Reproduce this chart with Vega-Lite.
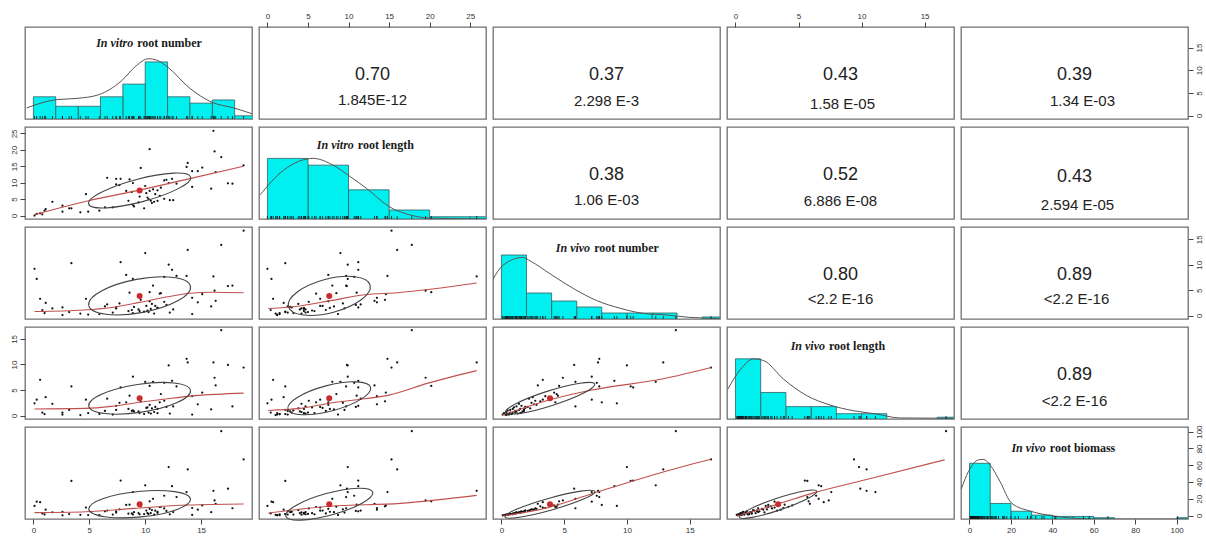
{
"$schema": "https://vega.github.io/schema/vega-lite/v6.json",
"background": "white",
"padding": {"left": 9, "top": 11, "right": 2, "bottom": 2},
"columns": 5,
"spacing": {"row": 8, "column": 7},
"bounds": "flush",
"align": "all",
"config": {
  "view": {"stroke": "#707070", "strokeWidth": 1.3},
  "axis": {"domain": false, "grid": false, "tickColor": "#444444", "tickSize": 5, "tickWidth": 1, "labelFont": "Liberation Sans", "labelFontSize": 8, "labelColor": "#333333", "labelPadding": 2, "title": null, "labelFlush": false, "labelOverlap": false},
  "axisLeft": {"labelAngle": 270, "labelAlign": "center", "labelBaseline": "bottom"},
  "axisRight": {"labelAngle": 270, "labelAlign": "center", "labelBaseline": "top"}
},
"datasets": {
  "obs": [
    {"a":16.8,"b":17.8,"c":13.9,"d":16.7,"e":100.5},
    {"a":18.8,"b":15.3,"c":16.7,"d":9.4,"e":66.8},
    {"a":16.1,"b":25.8,"c":7.7,"d":10.4,"e":29.5},
    {"a":16.2,"b":19.5,"c":4.9,"d":7.4,"e":18},
    {"a":10.4,"b":20.2,"c":4.6,"d":5.8,"e":17},
    {"a":13.7,"b":14.8,"c":7.8,"d":11.1,"e":28},
    {"a":13.8,"b":16.0,"c":12.9,"d":10.4,"e":55},
    {"a":14.2,"b":13.5,"c":3.5,"d":3.8,"e":9},
    {"a":14.7,"b":13.5,"c":2.6,"d":2.2,"e":7},
    {"a":15.1,"b":14.6,"c":4.2,"d":4.5,"e":12},
    {"a":16.3,"b":13.2,"c":2.9,"d":5.9,"e":14},
    {"a":15.9,"b":8.2,"c":1.8,"d":1.2,"e":4},
    {"a":9.5,"b":5.8,"c":0.9,"d":0.5,"e":1.5},
    {"a":17.4,"b":9.8,"c":5.8,"d":9.9,"e":32},
    {"a":17.8,"b":9.7,"c":5.9,"d":1.8,"e":8.7},
    {"a":9.4,"b":4.0,"c":1.2,"d":0.8,"e":3},
    {"a":14.2,"b":8.7,"c":0.3,"d":0.2,"e":0.8},
    {"a":9.6,"b":14.5,"c":3.1,"d":2.8,"e":11},
    {"a":6.6,"b":11.5,"c":2.2,"d":3.3,"e":6},
    {"a":7.4,"b":11.2,"c":1.6,"d":1.9,"e":5},
    {"a":7.8,"b":11.2,"c":10.5,"d":5.5,"e":41.7},
    {"a":7.4,"b":9.5,"c":1.4,"d":1.1,"e":3.5},
    {"a":7.7,"b":9.3,"c":2.4,"d":2.5,"e":7.5},
    {"a":8.6,"b":11.0,"c":4.5,"d":3.9,"e":13},
    {"a":8.9,"b":9.9,"c":7.2,"d":7.6,"e":28},
    {"a":8.3,"b":7.5,"c":8.0,"d":2.6,"e":12.6},
    {"a":8.8,"b":7.2,"c":1.1,"d":0.9,"e":2.5},
    {"a":10.1,"b":6.8,"c":1.9,"d":1.5,"e":6},
    {"a":10.4,"b":7.5,"c":2.8,"d":2.1,"e":8},
    {"a":10.7,"b":8.0,"c":5.9,"d":6.6,"e":20},
    {"a":11.1,"b":7.7,"c":1.5,"d":1.3,"e":4.5},
    {"a":11.4,"b":8.5,"c":4.4,"d":4.2,"e":10.5},
    {"a":11.7,"b":10.7,"c":7.6,"d":6.4,"e":23.6},
    {"a":11.9,"b":10.9,"c":2.1,"d":1.7,"e":5.5},
    {"a":12.1,"b":9.9,"c":10.0,"d":9.8,"e":57.8},
    {"a":12.4,"b":11.2,"c":9.0,"d":6.8,"e":35},
    {"a":12.8,"b":9.7,"c":7.8,"d":5.7,"e":22},
    {"a":10.3,"b":5.0,"c":0.7,"d":0.6,"e":2},
    {"a":10.5,"b":4.5,"c":1.3,"d":0.4,"e":3},
    {"a":8.9,"b":3.2,"c":0.5,"d":1.0,"e":1.2},
    {"a":9.0,"b":2.8,"c":1.7,"d":0.8,"e":4},
    {"a":9.9,"b":2.2,"c":0.8,"d":0.3,"e":1.8},
    {"a":10.6,"b":3.8,"c":2.3,"d":1.4,"e":6.5},
    {"a":10.2,"b":5.5,"c":1.0,"d":1.6,"e":2.8},
    {"a":10.8,"b":4.2,"c":0.4,"d":0.7,"e":1},
    {"a":11.1,"b":4.5,"c":1.5,"d":0.5,"e":3.2},
    {"a":11.7,"b":5.1,"c":2.7,"d":2.9,"e":8.5},
    {"a":12.2,"b":4.7,"c":0.6,"d":0.4,"e":1.5},
    {"a":12.5,"b":4.7,"c":1.2,"d":1.8,"e":4.2},
    {"a":4.7,"b":6.5,"c":3.3,"d":3.1,"e":9.5},
    {"a":8.5,"b":4.5,"c":0.9,"d":1.3,"e":2.2},
    {"a":5.9,"b":1.5,"c":0.3,"d":0.3,"e":0.5},
    {"a":6.4,"b":2.5,"c":1.8,"d":0.9,"e":5},
    {"a":7.1,"b":2.5,"c":0.6,"d":0.2,"e":1.2},
    {"a":4.9,"b":1.2,"c":0.2,"d":0.5,"e":0.6},
    {"a":1.7,"b":4.2,"c":1.4,"d":2.3,"e":3.8},
    {"a":4.2,"b":1.0,"c":0.4,"d":0.1,"e":0.9},
    {"a":3.2,"b":2.2,"c":0.7,"d":1.1,"e":1.8},
    {"a":3.4,"b":2.2,"c":10.3,"d":5.7,"e":41.3},
    {"a":2.6,"b":3.0,"c":1.6,"d":0.6,"e":4.4},
    {"a":2.6,"b":1.2,"c":0.1,"d":0.2,"e":0.3},
    {"a":1.1,"b":2.0,"c":2.5,"d":3.6,"e":7},
    {"a":1.0,"b":1.5,"c":0.5,"d":0.3,"e":1.4},
    {"a":0.1,"b":0.0,"c":9.2,"d":2.4,"e":11.4},
    {"a":0.3,"b":0.5,"c":7.2,"d":3.1,"e":16.5},
    {"a":0.6,"b":0.7,"c":3.3,"d":7.0,"e":16},
    {"a":0.8,"b":0.4,"c":1.1,"d":0.6,"e":2.6},
    {"a":11.3,"b":6.0,"c":4.3,"d":2.6,"e":10.2},
    {"a":10.0,"b":9.0,"c":12.3,"d":6.6,"e":36},
    {"a":10.9,"b":6.5,"c":1.9,"d":1.7,"e":5.8}
  ],
  "dens": [
    {"v":"a","x":-0.6,"h":3.5},{"v":"a","x":2.05,"h":6.1},{"v":"a","x":3.9,"h":6.5},{"v":"a","x":5.8,"h":7.6},{"v":"a","x":7.9,"h":12.1},{"v":"a","x":9.2,"h":16.8},{"v":"a","x":10.3,"h":19},{"v":"a","x":11,"h":18.6},{"v":"a","x":12,"h":16.4},{"v":"a","x":13.95,"h":9.8},{"v":"a","x":15.95,"h":5.3},{"v":"a","x":17.9,"h":3.5},{"v":"a","x":19.6,"h":1.6},
    {"v":"b","x":-0.9,"h":10.8},{"v":"b","x":2,"h":21.8},{"v":"b","x":5.67,"h":27},{"v":"b","x":8.1,"h":24},{"v":"b","x":10.2,"h":18.9},{"v":"b","x":12.2,"h":13.7},{"v":"b","x":15.1,"h":5.3},{"v":"b","x":17.5,"h":1.9},{"v":"b","x":20,"h":0.4},{"v":"b","x":26.9,"h":0},
    {"v":"c","x":-0.67,"h":20},{"v":"c","x":0.1,"h":26.7},{"v":"c","x":1.7,"h":30.8},{"v":"c","x":2.3,"h":29},{"v":"c","x":3.9,"h":22.5},{"v":"c","x":5.8,"h":15},{"v":"c","x":7.6,"h":9.2},{"v":"c","x":9.5,"h":5.3},{"v":"c","x":11.3,"h":2.8},{"v":"c","x":13.2,"h":2},{"v":"c","x":15,"h":0.8},{"v":"c","x":17.4,"h":0.3},
    {"v":"d","x":-0.6,"h":17},{"v":"d","x":0.4,"h":28},{"v":"d","x":1.45,"h":34},{"v":"d","x":2.24,"h":33},{"v":"d","x":3.8,"h":22.6},{"v":"d","x":5.66,"h":13.2},{"v":"d","x":7.5,"h":7.9},{"v":"d","x":9.34,"h":4.7},{"v":"d","x":11.2,"h":2.8},{"v":"d","x":13,"h":0.6},{"v":"d","x":17.3,"h":0.4},
    {"v":"e","x":-4.1,"h":22.6},{"v":"e","x":-0.5,"h":36.7},{"v":"e","x":4.3,"h":45.6},{"v":"e","x":6.7,"h":46},{"v":"e","x":9.9,"h":41.8},{"v":"e","x":14.7,"h":29},{"v":"e","x":20.3,"h":12.3},{"v":"e","x":29.8,"h":5.9},{"v":"e","x":39.4,"h":2.6},{"v":"e","x":48.9,"h":0.8},{"v":"e","x":61.7,"h":0},{"v":"e","x":105,"h":0}
  ],
  "smooth": [
    {"p":"ab","x":0.1,"y":0.3},{"p":"ab","x":5,"y":4.6},{"p":"ab","x":9.3,"y":7.6},{"p":"ab","x":13.8,"y":11.1},{"p":"ab","x":18.8,"y":15},
    {"p":"ac","x":0.1,"y":0.8},{"p":"ac","x":4.5,"y":1.1},{"p":"ac","x":7,"y":1.6},{"p":"ac","x":9.5,"y":2.6},{"p":"ac","x":12,"y":3.7},{"p":"ac","x":14,"y":4.4},{"p":"ac","x":16,"y":4.6},{"p":"ac","x":18.8,"y":4.5},
    {"p":"bc","x":0.1,"y":1.4},{"p":"bc","x":4,"y":1.9},{"p":"bc","x":8,"y":3.0},{"p":"bc","x":12,"y":4.1},{"p":"bc","x":16,"y":4.5},{"p":"bc","x":25.8,"y":6.4},
    {"p":"ad","x":0.1,"y":1.3},{"p":"ad","x":4.6,"y":1.4},{"p":"ad","x":7,"y":1.8},{"p":"ad","x":9.5,"y":2.6},{"p":"ad","x":12,"y":3.3},{"p":"ad","x":14.5,"y":3.9},{"p":"ad","x":18.8,"y":4.4},
    {"p":"bd","x":0.1,"y":1.0},{"p":"bd","x":4,"y":1.4},{"p":"bd","x":8,"y":2.5},{"p":"bd","x":12,"y":3.3},{"p":"bd","x":15,"y":4.0},{"p":"bd","x":19.7,"y":6.3},{"p":"bd","x":25.8,"y":8.8},
    {"p":"cd","x":0.1,"y":0.1},{"p":"cd","x":3.6,"y":2.9},{"p":"cd","x":7.2,"y":5.0},{"p":"cd","x":12.9,"y":7.2},{"p":"cd","x":16.7,"y":9.4},
    {"p":"ae","x":0.1,"y":3.5},{"p":"ae","x":4.7,"y":4.5},{"p":"ae","x":9,"y":8.5},{"p":"ae","x":13.8,"y":12.5},{"p":"ae","x":18.8,"y":13.8},
    {"p":"be","x":0.1,"y":3},{"p":"be","x":7.7,"y":11},{"p":"be","x":16.4,"y":14.5},{"p":"be","x":25.8,"y":24},
    {"p":"ce","x":0.1,"y":-0.5},{"p":"ce","x":3.6,"y":9},{"p":"ce","x":7.2,"y":26},{"p":"ce","x":12.9,"y":52},{"p":"ce","x":16.7,"y":67},
    {"p":"de","x":0.1,"y":-0.5},{"p":"de","x":3,"y":12},{"p":"de","x":6.2,"y":27},{"p":"de","x":10.4,"y":43},{"p":"de","x":16.6,"y":66.5}
  ],
  "cor": [
    {"p":"ab","r":"0.70","pv":"1.845E-12"},
    {"p":"ac","r":"0.37","pv":"2.298 E-3"},
    {"p":"ad","r":"0.43","pv":"1.58 E-05"},
    {"p":"ae","r":"0.39","pv":"1.34 E-03"},
    {"p":"bc","r":"0.38","pv":"1.06 E-03"},
    {"p":"bd","r":"0.52","pv":"6.886 E-08"},
    {"p":"be","r":"0.43","pv":"2.594 E-05"},
    {"p":"cd","r":"0.80","pv":"<2.2 E-16"},
    {"p":"ce","r":"0.89","pv":"<2.2 E-16"},
    {"p":"de","r":"0.89","pv":"<2.2 E-16"}
  ]
},
"concat": [
  {"width":227,"height":92,"layer":[
    {"data":{"name":"obs"},"transform":[{"bin":{"step":2,"extent":[0,20]},"field":"a","as":["ha0","ha1"]},{"aggregate":[{"op":"count","as":"n"}],"groupby":["ha0","ha1"]}],
     "mark":{"type":"bar","fill":"#00F0F0","stroke":"#2f5f5f","strokeWidth":0.8,"clip":true},
     "encoding":{"x":{"field":"ha0","type":"quantitative","scale":{"domain":[-0.75,19.55],"nice":false,"zero":false},"axis":null},"x2":{"field":"ha1"},"y":{"field":"n","type":"quantitative","scale":{"domain":[0,29],"nice":false},"axis":null},"y2":{"datum":0}}},
    {"data":{"name":"dens"},"transform":[{"filter":"datum.v=='a'"}],"mark":{"type":"line","color":"#555555","strokeWidth":1,"interpolate":"monotone","clip":true},
     "encoding":{"x":{"field":"x","type":"quantitative","axis":null},"y":{"field":"h","type":"quantitative","axis":null}}},
    {"data":{"name":"obs"},"mark":{"type":"rule","color":"#111111","strokeWidth":0.8},
     "encoding":{"x":{"field":"a","type":"quantitative","axis":null},"y":{"datum":0,"type":"quantitative","axis":null},"y2":{"datum":0.95}}},
    {"data":{"values":[{}]},"mark":{"type":"text","text":"In vitro","font":"Liberation Serif","fontStyle":"italic","fontWeight":"bold","fontSize":12,"align":"right","dx":-2,"color":"#1a1a1a"},
     "encoding":{"x":{"datum":9.1,"type":"quantitative","axis":null},"y":{"datum":23.86,"type":"quantitative","axis":null}}},
    {"data":{"values":[{}]},"mark":{"type":"text","text":"root number","font":"Liberation Serif","fontWeight":"bold","fontSize":12,"align":"left","dx":2,"color":"#1a1a1a"},
     "encoding":{"x":{"datum":9.1,"type":"quantitative","axis":null},"y":{"datum":23.86,"type":"quantitative","axis":null}}}
  ]},
  {"width":227,"height":92,"layer":[
    {"data":{"name":"cor"},"transform":[{"filter":"datum.p=='ab'"}],"mark":{"type":"text","fontSize":18,"font":"Liberation Sans","color":"#222222","dy":2},"encoding":{"text":{"field":"r","type":"nominal"}}},
    {"data":{"name":"cor"},"transform":[{"filter":"datum.p=='ab'"}],"mark":{"type":"text","fontSize":15,"font":"Liberation Sans","color":"#222222","dy":27},"encoding":{"text":{"field":"pv","type":"nominal"}}},
    {"data":{"name":"obs"},"mark":{"type":"point","opacity":0},"encoding":{"x":{"field":"b","type":"quantitative","scale":{"domain":[-1.04,26.95],"nice":false,"zero":false},"axis":{"orient":"top","values":[0,5,10,15,20,25]}}}}
  ]},
  {"width":227,"height":92,"layer":[
    {"data":{"name":"cor"},"transform":[{"filter":"datum.p=='ac'"}],"mark":{"type":"text","fontSize":18,"font":"Liberation Sans","color":"#222222","dy":2},"encoding":{"text":{"field":"r","type":"nominal"}}},
    {"data":{"name":"cor"},"transform":[{"filter":"datum.p=='ac'"}],"mark":{"type":"text","fontSize":15,"font":"Liberation Sans","color":"#222222","dy":28},"encoding":{"text":{"field":"pv","type":"nominal"}}},
    {"data":{"name":"obs"},"mark":{"type":"point","opacity":0},"encoding":{"x":{"field":"a","type":"quantitative","axis":null}}}
  ]},
  {"width":227,"height":92,"layer":[
    {"data":{"name":"cor"},"transform":[{"filter":"datum.p=='ad'"}],"mark":{"type":"text","fontSize":18,"font":"Liberation Sans","color":"#222222","dy":2},"encoding":{"text":{"field":"r","type":"nominal"}}},
    {"data":{"name":"cor"},"transform":[{"filter":"datum.p=='ad'"}],"mark":{"type":"text","fontSize":15,"font":"Liberation Sans","color":"#222222","dy":31,"dx":2},"encoding":{"text":{"field":"pv","type":"nominal"}}},
    {"data":{"name":"obs"},"mark":{"type":"point","opacity":0},"encoding":{"x":{"field":"d","type":"quantitative","scale":{"domain":[-0.67,17.33],"nice":false,"zero":false},"axis":{"orient":"top","values":[0,5,10,15]}}}}
  ]},
  {"width":227,"height":92,"layer":[
    {"data":{"name":"cor"},"transform":[{"filter":"datum.p=='ae'"}],"mark":{"type":"text","fontSize":18,"font":"Liberation Sans","color":"#222222","dy":2},"encoding":{"text":{"field":"r","type":"nominal"}}},
    {"data":{"name":"cor"},"transform":[{"filter":"datum.p=='ae'"}],"mark":{"type":"text","fontSize":15,"font":"Liberation Sans","color":"#222222","dy":28,"dx":8},"encoding":{"text":{"field":"pv","type":"nominal"}}},
    {"data":{"name":"obs"},"mark":{"type":"point","opacity":0},"encoding":{"y":{"field":"a","type":"quantitative","scale":{"domain":[-0.75,19.55],"nice":false,"zero":false},"axis":{"orient":"right","values":[0,5,10,15]}}}}
  ]},

  {"width":227,"height":92,"layer":[
    {"data":{"name":"obs"},"mark":{"type":"circle","size":5,"color":"#111111","opacity":1},
     "encoding":{"x":{"field":"a","type":"quantitative","scale":{"domain":[-0.75,19.55],"nice":false,"zero":false},"axis":null},"y":{"field":"b","type":"quantitative","scale":{"domain":[-1.04,26.95],"nice":false,"zero":false},"axis":{"orient":"left","values":[0,5,10,15,20,25]}}}},
    {"data":{"name":"smooth"},"transform":[{"filter":"datum.p=='ab'"}],"mark":{"type":"line","color":"#c0504d","strokeWidth":1.1,"interpolate":"monotone","clip":true},
     "encoding":{"x":{"field":"x","type":"quantitative","axis":null},"y":{"field":"y","type":"quantitative","axis":{"orient":"left","values":[0,5,10,15,20,25]}}}},
    {"data":{"name":"obs"},"mark":{"type":"point","shape":"M-1,0C-1,-0.1204,-0.5523,-0.218,0,-0.218C0.5523,-0.218,1,-0.1204,1,0C1,0.1204,0.5523,0.218,0,0.218C-0.5523,0.218,-1,0.1204,-1,0Z","size":11130,"angle":345.2,"filled":false,"stroke":"#444444","strokeWidth":1.1,"opacity":1},
     "encoding":{"x":{"field":"a","aggregate":"mean","type":"quantitative","axis":null},"y":{"field":"b","aggregate":"mean","type":"quantitative","axis":{"orient":"left","values":[0,5,10,15,20,25]}}}},
    {"data":{"name":"obs"},"mark":{"type":"circle","size":36,"color":"#cc2b2b","opacity":1},
     "encoding":{"x":{"field":"a","aggregate":"mean","type":"quantitative","axis":null},"y":{"field":"b","aggregate":"mean","type":"quantitative","axis":{"orient":"left","values":[0,5,10,15,20,25]}}}}
  ]},
  {"width":227,"height":92,"layer":[
    {"data":{"name":"obs"},"transform":[{"bin":{"step":5,"extent":[0,30]},"field":"b","as":["hb0","hb1"]},{"aggregate":[{"op":"count","as":"n"}],"groupby":["hb0","hb1"]}],
     "mark":{"type":"bar","fill":"#00F0F0","stroke":"#2f5f5f","strokeWidth":0.8,"clip":true},
     "encoding":{"x":{"field":"hb0","type":"quantitative","scale":{"domain":[-1.04,26.95],"nice":false,"zero":false},"axis":null},"x2":{"field":"hb1"},"y":{"field":"n","type":"quantitative","scale":{"domain":[0,41],"nice":false},"axis":null},"y2":{"datum":0}}},
    {"data":{"name":"dens"},"transform":[{"filter":"datum.v=='b'"}],"mark":{"type":"line","color":"#555555","strokeWidth":1,"interpolate":"monotone","clip":true},
     "encoding":{"x":{"field":"x","type":"quantitative","axis":null},"y":{"field":"h","type":"quantitative","axis":null}}},
    {"data":{"name":"obs"},"mark":{"type":"rule","color":"#111111","strokeWidth":0.8},
     "encoding":{"x":{"field":"b","type":"quantitative","axis":null},"y":{"datum":0,"type":"quantitative","axis":null},"y2":{"datum":1.34}}},
    {"data":{"values":[{}]},"mark":{"type":"text","text":"In vitro","font":"Liberation Serif","fontStyle":"italic","fontWeight":"bold","fontSize":12,"align":"right","dx":-2,"color":"#1a1a1a"},
     "encoding":{"x":{"datum":10.9,"type":"quantitative","axis":null},"y":{"datum":32.98,"type":"quantitative","axis":null}}},
    {"data":{"values":[{}]},"mark":{"type":"text","text":"root length","font":"Liberation Serif","fontWeight":"bold","fontSize":12,"align":"left","dx":2,"color":"#1a1a1a"},
     "encoding":{"x":{"datum":10.9,"type":"quantitative","axis":null},"y":{"datum":32.98,"type":"quantitative","axis":null}}}
  ]},
  {"width":227,"height":92,"layer":[
    {"data":{"name":"cor"},"transform":[{"filter":"datum.p=='bc'"}],"mark":{"type":"text","fontSize":18,"font":"Liberation Sans","color":"#222222","dy":2},"encoding":{"text":{"field":"r","type":"nominal"}}},
    {"data":{"name":"cor"},"transform":[{"filter":"datum.p=='bc'"}],"mark":{"type":"text","fontSize":15,"font":"Liberation Sans","color":"#222222","dy":27},"encoding":{"text":{"field":"pv","type":"nominal"}}},
    {"data":{"name":"obs"},"mark":{"type":"point","opacity":0},"encoding":{"x":{"field":"a","type":"quantitative","axis":null}}}
  ]},
  {"width":227,"height":92,"layer":[
    {"data":{"name":"cor"},"transform":[{"filter":"datum.p=='bd'"}],"mark":{"type":"text","fontSize":18,"font":"Liberation Sans","color":"#222222","dy":2},"encoding":{"text":{"field":"r","type":"nominal"}}},
    {"data":{"name":"cor"},"transform":[{"filter":"datum.p=='bd'"}],"mark":{"type":"text","fontSize":15,"font":"Liberation Sans","color":"#222222","dy":28},"encoding":{"text":{"field":"pv","type":"nominal"}}},
    {"data":{"name":"obs"},"mark":{"type":"point","opacity":0},"encoding":{"x":{"field":"a","type":"quantitative","axis":null}}}
  ]},
  {"width":227,"height":92,"layer":[
    {"data":{"name":"cor"},"transform":[{"filter":"datum.p=='be'"}],"mark":{"type":"text","fontSize":18,"font":"Liberation Sans","color":"#222222","dy":4},"encoding":{"text":{"field":"r","type":"nominal"}}},
    {"data":{"name":"cor"},"transform":[{"filter":"datum.p=='be'"}],"mark":{"type":"text","fontSize":15,"font":"Liberation Sans","color":"#222222","dy":32,"dx":3},"encoding":{"text":{"field":"pv","type":"nominal"}}},
    {"data":{"name":"obs"},"mark":{"type":"point","opacity":0},"encoding":{"x":{"field":"a","type":"quantitative","axis":null}}}
  ]},

  {"width":227,"height":92,"layer":[
    {"data":{"name":"obs"},"mark":{"type":"circle","size":5,"color":"#111111","opacity":1},
     "encoding":{"x":{"field":"a","type":"quantitative","scale":{"domain":[-0.75,19.55],"nice":false,"zero":false},"axis":null},"y":{"field":"c","type":"quantitative","scale":{"domain":[-0.67,17.42],"nice":false,"zero":false},"axis":null}}},
    {"data":{"name":"smooth"},"transform":[{"filter":"datum.p=='ac'"}],"mark":{"type":"line","color":"#c0504d","strokeWidth":1.1,"interpolate":"monotone","clip":true},
     "encoding":{"x":{"field":"x","type":"quantitative","axis":null},"y":{"field":"y","type":"quantitative","axis":null}}},
    {"data":{"name":"obs"},"mark":{"type":"point","shape":"M-1,0C-1,-0.1789,-0.5523,-0.324,0,-0.324C0.5523,-0.324,1,-0.1789,1,0C1,0.1789,0.5523,0.324,0,0.324C-0.5523,0.324,-1,0.1789,-1,0Z","size":10712,"angle":349.4,"filled":false,"stroke":"#444444","strokeWidth":1.1,"opacity":1},
     "encoding":{"x":{"field":"a","aggregate":"mean","type":"quantitative","axis":null},"y":{"field":"c","aggregate":"mean","type":"quantitative","axis":null}}},
    {"data":{"name":"obs"},"mark":{"type":"circle","size":36,"color":"#cc2b2b","opacity":1},
     "encoding":{"x":{"field":"a","aggregate":"mean","type":"quantitative","axis":null},"y":{"field":"c","aggregate":"mean","type":"quantitative","axis":null}}}
  ]},
  {"width":227,"height":92,"layer":[
    {"data":{"name":"obs"},"mark":{"type":"circle","size":5,"color":"#111111","opacity":1},
     "encoding":{"x":{"field":"b","type":"quantitative","scale":{"domain":[-1.04,26.95],"nice":false,"zero":false},"axis":null},"y":{"field":"c","type":"quantitative","scale":{"domain":[-0.67,17.42],"nice":false,"zero":false},"axis":null}}},
    {"data":{"name":"smooth"},"transform":[{"filter":"datum.p=='bc'"}],"mark":{"type":"line","color":"#c0504d","strokeWidth":1.1,"interpolate":"monotone","clip":true},
     "encoding":{"x":{"field":"x","type":"quantitative","axis":null},"y":{"field":"y","type":"quantitative","axis":null}}},
    {"data":{"name":"obs"},"mark":{"type":"point","shape":"M-1,0C-1,-0.2209,-0.5523,-0.4,0,-0.4C0.5523,-0.4,1,-0.2209,1,0C1,0.2209,0.5523,0.4,0,0.4C-0.5523,0.4,-1,0.2209,-1,0Z","size":7140,"angle":345.2,"filled":false,"stroke":"#444444","strokeWidth":1.1,"opacity":1},
     "encoding":{"x":{"field":"b","aggregate":"mean","type":"quantitative","axis":null},"y":{"field":"c","aggregate":"mean","type":"quantitative","axis":null}}},
    {"data":{"name":"obs"},"mark":{"type":"circle","size":36,"color":"#cc2b2b","opacity":1},
     "encoding":{"x":{"field":"b","aggregate":"mean","type":"quantitative","axis":null},"y":{"field":"c","aggregate":"mean","type":"quantitative","axis":null}}}
  ]},
  {"width":227,"height":92,"layer":[
    {"data":{"name":"obs"},"transform":[{"bin":{"step":2,"extent":[0,18]},"field":"c","as":["hc0","hc1"]},{"aggregate":[{"op":"count","as":"n"}],"groupby":["hc0","hc1"]}],
     "mark":{"type":"bar","fill":"#00F0F0","stroke":"#2f5f5f","strokeWidth":0.8,"clip":true},
     "encoding":{"x":{"field":"hc0","type":"quantitative","scale":{"domain":[-0.67,17.42],"nice":false,"zero":false},"axis":null},"x2":{"field":"hc1"},"y":{"field":"n","type":"quantitative","scale":{"domain":[0,46],"nice":false},"axis":null},"y2":{"datum":0}}},
    {"data":{"name":"dens"},"transform":[{"filter":"datum.v=='c'"}],"mark":{"type":"line","color":"#555555","strokeWidth":1,"interpolate":"monotone","clip":true},
     "encoding":{"x":{"field":"x","type":"quantitative","axis":null},"y":{"field":"h","type":"quantitative","axis":null}}},
    {"data":{"name":"obs"},"mark":{"type":"rule","color":"#111111","strokeWidth":0.8},
     "encoding":{"x":{"field":"c","type":"quantitative","axis":null},"y":{"datum":0,"type":"quantitative","axis":null},"y2":{"datum":1.5}}},
    {"data":{"values":[{}]},"mark":{"type":"text","text":"In vivo","font":"Liberation Serif","fontStyle":"italic","fontWeight":"bold","fontSize":12,"align":"right","dx":-2,"color":"#1a1a1a"},
     "encoding":{"x":{"datum":7.23,"type":"quantitative","axis":null},"y":{"datum":35.5,"type":"quantitative","axis":null}}},
    {"data":{"values":[{}]},"mark":{"type":"text","text":"root number","font":"Liberation Serif","fontWeight":"bold","fontSize":12,"align":"left","dx":2,"color":"#1a1a1a"},
     "encoding":{"x":{"datum":7.23,"type":"quantitative","axis":null},"y":{"datum":35.5,"type":"quantitative","axis":null}}}
  ]},
  {"width":227,"height":92,"layer":[
    {"data":{"name":"cor"},"transform":[{"filter":"datum.p=='cd'"}],"mark":{"type":"text","fontSize":18,"font":"Liberation Sans","color":"#222222","dy":2},"encoding":{"text":{"field":"r","type":"nominal"}}},
    {"data":{"name":"cor"},"transform":[{"filter":"datum.p=='cd'"}],"mark":{"type":"text","fontSize":15,"font":"Liberation Sans","color":"#222222","dy":26},"encoding":{"text":{"field":"pv","type":"nominal"}}},
    {"data":{"name":"obs"},"mark":{"type":"point","opacity":0},"encoding":{"x":{"field":"a","type":"quantitative","axis":null}}}
  ]},
  {"width":227,"height":92,"layer":[
    {"data":{"name":"cor"},"transform":[{"filter":"datum.p=='ce'"}],"mark":{"type":"text","fontSize":18,"font":"Liberation Sans","color":"#222222","dy":2},"encoding":{"text":{"field":"r","type":"nominal"}}},
    {"data":{"name":"cor"},"transform":[{"filter":"datum.p=='ce'"}],"mark":{"type":"text","fontSize":15,"font":"Liberation Sans","color":"#222222","dy":26,"dx":2},"encoding":{"text":{"field":"pv","type":"nominal"}}},
    {"data":{"name":"obs"},"mark":{"type":"point","opacity":0},"encoding":{"y":{"field":"c","type":"quantitative","scale":{"domain":[-0.67,17.42],"nice":false,"zero":false},"axis":{"orient":"right","values":[0,5,10,15]}}}}
  ]},

  {"width":227,"height":92,"layer":[
    {"data":{"name":"obs"},"mark":{"type":"circle","size":5,"color":"#111111","opacity":1},
     "encoding":{"x":{"field":"a","type":"quantitative","scale":{"domain":[-0.75,19.55],"nice":false,"zero":false},"axis":null},"y":{"field":"d","type":"quantitative","scale":{"domain":[-0.67,17.33],"nice":false,"zero":false},"axis":{"orient":"left","values":[0,5,10,15]}}}},
    {"data":{"name":"smooth"},"transform":[{"filter":"datum.p=='ad'"}],"mark":{"type":"line","color":"#c0504d","strokeWidth":1.1,"interpolate":"monotone","clip":true},
     "encoding":{"x":{"field":"x","type":"quantitative","axis":null},"y":{"field":"y","type":"quantitative","axis":{"orient":"left","values":[0,5,10,15]}}}},
    {"data":{"name":"obs"},"mark":{"type":"point","shape":"M-1,0C-1,-0.1502,-0.5523,-0.272,0,-0.272C0.5523,-0.272,1,-0.1502,1,0C1,0.1502,0.5523,0.272,0,0.272C-0.5523,0.272,-1,0.1502,-1,0Z","size":10588,"angle":351.3,"filled":false,"stroke":"#444444","strokeWidth":1.1,"opacity":1},
     "encoding":{"x":{"field":"a","aggregate":"mean","type":"quantitative","axis":null},"y":{"field":"d","aggregate":"mean","type":"quantitative","axis":{"orient":"left","values":[0,5,10,15]}}}},
    {"data":{"name":"obs"},"mark":{"type":"circle","size":36,"color":"#cc2b2b","opacity":1},
     "encoding":{"x":{"field":"a","aggregate":"mean","type":"quantitative","axis":null},"y":{"field":"d","aggregate":"mean","type":"quantitative","axis":{"orient":"left","values":[0,5,10,15]}}}}
  ]},
  {"width":227,"height":92,"layer":[
    {"data":{"name":"obs"},"mark":{"type":"circle","size":5,"color":"#111111","opacity":1},
     "encoding":{"x":{"field":"b","type":"quantitative","scale":{"domain":[-1.04,26.95],"nice":false,"zero":false},"axis":null},"y":{"field":"d","type":"quantitative","scale":{"domain":[-0.67,17.33],"nice":false,"zero":false},"axis":null}}},
    {"data":{"name":"smooth"},"transform":[{"filter":"datum.p=='bd'"}],"mark":{"type":"line","color":"#c0504d","strokeWidth":1.1,"interpolate":"monotone","clip":true},
     "encoding":{"x":{"field":"x","type":"quantitative","axis":null},"y":{"field":"y","type":"quantitative","axis":null}}},
    {"data":{"name":"obs"},"mark":{"type":"point","shape":"M-1,0C-1,-0.1657,-0.5523,-0.3,0,-0.3C0.5523,-0.3,1,-0.1657,1,0C1,0.1657,0.5523,0.3,0,0.3C-0.5523,0.3,-1,0.1657,-1,0Z","size":7310,"angle":345.3,"filled":false,"stroke":"#444444","strokeWidth":1.1,"opacity":1},
     "encoding":{"x":{"field":"b","aggregate":"mean","type":"quantitative","axis":null},"y":{"field":"d","aggregate":"mean","type":"quantitative","axis":null}}},
    {"data":{"name":"obs"},"mark":{"type":"circle","size":36,"color":"#cc2b2b","opacity":1},
     "encoding":{"x":{"field":"b","aggregate":"mean","type":"quantitative","axis":null},"y":{"field":"d","aggregate":"mean","type":"quantitative","axis":null}}}
  ]},
  {"width":227,"height":92,"layer":[
    {"data":{"name":"obs"},"mark":{"type":"circle","size":5,"color":"#111111","opacity":1},
     "encoding":{"x":{"field":"c","type":"quantitative","scale":{"domain":[-0.67,17.42],"nice":false,"zero":false},"axis":null},"y":{"field":"d","type":"quantitative","scale":{"domain":[-0.67,17.33],"nice":false,"zero":false},"axis":null}}},
    {"data":{"name":"smooth"},"transform":[{"filter":"datum.p=='cd'"}],"mark":{"type":"line","color":"#c0504d","strokeWidth":1.1,"interpolate":"monotone","clip":true},
     "encoding":{"x":{"field":"x","type":"quantitative","axis":null},"y":{"field":"y","type":"quantitative","axis":null}}},
    {"data":{"name":"obs"},"mark":{"type":"point","shape":"M-1,0C-1,-0.0884,-0.5523,-0.16,0,-0.16C0.5523,-0.16,1,-0.0884,1,0C1,0.0884,0.5523,0.16,0,0.16C-0.5523,0.16,-1,0.0884,-1,0Z","size":8780,"angle":342.4,"filled":false,"stroke":"#444444","strokeWidth":1.1,"opacity":1},
     "encoding":{"x":{"field":"c","aggregate":"mean","type":"quantitative","axis":null},"y":{"field":"d","aggregate":"mean","type":"quantitative","axis":null}}},
    {"data":{"name":"obs"},"mark":{"type":"circle","size":36,"color":"#cc2b2b","opacity":1},
     "encoding":{"x":{"field":"c","aggregate":"mean","type":"quantitative","axis":null},"y":{"field":"d","aggregate":"mean","type":"quantitative","axis":null}}}
  ]},
  {"width":227,"height":92,"layer":[
    {"data":{"name":"obs"},"transform":[{"bin":{"step":2,"extent":[0,18]},"field":"d","as":["hd0","hd1"]},{"aggregate":[{"op":"count","as":"n"}],"groupby":["hd0","hd1"]}],
     "mark":{"type":"bar","fill":"#00F0F0","stroke":"#2f5f5f","strokeWidth":0.8,"clip":true},
     "encoding":{"x":{"field":"hd0","type":"quantitative","scale":{"domain":[-0.67,17.33],"nice":false,"zero":false},"axis":null},"x2":{"field":"hd1"},"y":{"field":"n","type":"quantitative","scale":{"domain":[0,52],"nice":false},"axis":null},"y2":{"datum":0}}},
    {"data":{"name":"dens"},"transform":[{"filter":"datum.v=='d'"}],"mark":{"type":"line","color":"#555555","strokeWidth":1,"interpolate":"monotone","clip":true},
     "encoding":{"x":{"field":"x","type":"quantitative","axis":null},"y":{"field":"h","type":"quantitative","axis":null}}},
    {"data":{"name":"obs"},"mark":{"type":"rule","color":"#111111","strokeWidth":0.8},
     "encoding":{"x":{"field":"d","type":"quantitative","axis":null},"y":{"datum":0,"type":"quantitative","axis":null},"y2":{"datum":1.7}}},
    {"data":{"values":[{}]},"mark":{"type":"text","text":"In vivo","font":"Liberation Serif","fontStyle":"italic","fontWeight":"bold","fontSize":12,"align":"right","dx":-2,"color":"#1a1a1a"},
     "encoding":{"x":{"datum":7.26,"type":"quantitative","axis":null},"y":{"datum":41.4,"type":"quantitative","axis":null}}},
    {"data":{"values":[{}]},"mark":{"type":"text","text":"root length","font":"Liberation Serif","fontWeight":"bold","fontSize":12,"align":"left","dx":2,"color":"#1a1a1a"},
     "encoding":{"x":{"datum":7.26,"type":"quantitative","axis":null},"y":{"datum":41.4,"type":"quantitative","axis":null}}}
  ]},
  {"width":227,"height":92,"layer":[
    {"data":{"name":"cor"},"transform":[{"filter":"datum.p=='de'"}],"mark":{"type":"text","fontSize":18,"font":"Liberation Sans","color":"#222222","dy":2},"encoding":{"text":{"field":"r","type":"nominal"}}},
    {"data":{"name":"cor"},"transform":[{"filter":"datum.p=='de'"}],"mark":{"type":"text","fontSize":15,"font":"Liberation Sans","color":"#222222","dy":28},"encoding":{"text":{"field":"pv","type":"nominal"}}},
    {"data":{"name":"obs"},"mark":{"type":"point","opacity":0},"encoding":{"x":{"field":"a","type":"quantitative","axis":null}}}
  ]},

  {"width":227,"height":92,"layer":[
    {"data":{"name":"obs"},"mark":{"type":"circle","size":5,"color":"#111111","opacity":1},
     "encoding":{"x":{"field":"a","type":"quantitative","scale":{"domain":[-0.75,19.55],"nice":false,"zero":false},"axis":{"orient":"bottom","values":[0,5,10,15]}},"y":{"field":"e","type":"quantitative","scale":{"domain":[-4.1,105.5],"nice":false,"zero":false},"axis":null}}},
    {"data":{"name":"smooth"},"transform":[{"filter":"datum.p=='ae'"}],"mark":{"type":"line","color":"#c0504d","strokeWidth":1.1,"interpolate":"monotone","clip":true},
     "encoding":{"x":{"field":"x","type":"quantitative","axis":{"orient":"bottom","values":[0,5,10,15]}},"y":{"field":"y","type":"quantitative","axis":null}}},
    {"data":{"name":"obs"},"mark":{"type":"point","shape":"M-1,0C-1,-0.1381,-0.5523,-0.25,0,-0.25C0.5523,-0.25,1,-0.1381,1,0C1,0.1381,0.5523,0.25,0,0.25C-0.5523,0.25,-1,0.1381,-1,0Z","size":10445,"angle":354.4,"filled":false,"stroke":"#444444","strokeWidth":1.1,"opacity":1},
     "encoding":{"x":{"field":"a","aggregate":"mean","type":"quantitative","axis":{"orient":"bottom","values":[0,5,10,15]}},"y":{"field":"e","aggregate":"mean","type":"quantitative","axis":null}}},
    {"data":{"name":"obs"},"mark":{"type":"circle","size":36,"color":"#cc2b2b","opacity":1},
     "encoding":{"x":{"field":"a","aggregate":"mean","type":"quantitative","axis":{"orient":"bottom","values":[0,5,10,15]}},"y":{"field":"e","aggregate":"mean","type":"quantitative","axis":null}}}
  ]},
  {"width":227,"height":92,"layer":[
    {"data":{"name":"obs"},"mark":{"type":"circle","size":5,"color":"#111111","opacity":1},
     "encoding":{"x":{"field":"b","type":"quantitative","scale":{"domain":[-1.04,26.95],"nice":false,"zero":false},"axis":null},"y":{"field":"e","type":"quantitative","scale":{"domain":[-4.1,105.5],"nice":false,"zero":false},"axis":null}}},
    {"data":{"name":"smooth"},"transform":[{"filter":"datum.p=='be'"}],"mark":{"type":"line","color":"#c0504d","strokeWidth":1.1,"interpolate":"monotone","clip":true},
     "encoding":{"x":{"field":"x","type":"quantitative","axis":null},"y":{"field":"y","type":"quantitative","axis":null}}},
    {"data":{"name":"obs"},"mark":{"type":"point","shape":"M-1,0C-1,-0.1348,-0.5523,-0.244,0,-0.244C0.5523,-0.244,1,-0.1348,1,0C1,0.1348,0.5523,0.244,0,0.244C-0.5523,0.244,-1,0.1348,-1,0Z","size":8136,"angle":344.6,"filled":false,"stroke":"#444444","strokeWidth":1.1,"opacity":1},
     "encoding":{"x":{"field":"b","aggregate":"mean","type":"quantitative","axis":null},"y":{"field":"e","aggregate":"mean","type":"quantitative","axis":null}}},
    {"data":{"name":"obs"},"mark":{"type":"circle","size":36,"color":"#cc2b2b","opacity":1},
     "encoding":{"x":{"field":"b","aggregate":"mean","type":"quantitative","axis":null},"y":{"field":"e","aggregate":"mean","type":"quantitative","axis":null}}}
  ]},
  {"width":227,"height":92,"layer":[
    {"data":{"name":"obs"},"mark":{"type":"circle","size":5,"color":"#111111","opacity":1},
     "encoding":{"x":{"field":"c","type":"quantitative","scale":{"domain":[-0.67,17.42],"nice":false,"zero":false},"axis":{"orient":"bottom","values":[0,5,10,15]}},"y":{"field":"e","type":"quantitative","scale":{"domain":[-4.1,105.5],"nice":false,"zero":false},"axis":null}}},
    {"data":{"name":"smooth"},"transform":[{"filter":"datum.p=='ce'"}],"mark":{"type":"line","color":"#c0504d","strokeWidth":1.1,"interpolate":"monotone","clip":true},
     "encoding":{"x":{"field":"x","type":"quantitative","axis":{"orient":"bottom","values":[0,5,10,15]}},"y":{"field":"y","type":"quantitative","axis":null}}},
    {"data":{"name":"obs"},"mark":{"type":"point","shape":"M-1,0C-1,-0.0707,-0.5523,-0.128,0,-0.128C0.5523,-0.128,1,-0.0707,1,0C1,0.0707,0.5523,0.128,0,0.128C-0.5523,0.128,-1,0.0707,-1,0Z","size":8742,"angle":344.3,"filled":false,"stroke":"#444444","strokeWidth":1.1,"opacity":1},
     "encoding":{"x":{"field":"c","aggregate":"mean","type":"quantitative","axis":{"orient":"bottom","values":[0,5,10,15]}},"y":{"field":"e","aggregate":"mean","type":"quantitative","axis":null}}},
    {"data":{"name":"obs"},"mark":{"type":"circle","size":36,"color":"#cc2b2b","opacity":1},
     "encoding":{"x":{"field":"c","aggregate":"mean","type":"quantitative","axis":{"orient":"bottom","values":[0,5,10,15]}},"y":{"field":"e","aggregate":"mean","type":"quantitative","axis":null}}}
  ]},
  {"width":227,"height":92,"layer":[
    {"data":{"name":"obs"},"mark":{"type":"circle","size":5,"color":"#111111","opacity":1},
     "encoding":{"x":{"field":"d","type":"quantitative","scale":{"domain":[-0.67,17.33],"nice":false,"zero":false},"axis":null},"y":{"field":"e","type":"quantitative","scale":{"domain":[-4.1,105.5],"nice":false,"zero":false},"axis":null}}},
    {"data":{"name":"smooth"},"transform":[{"filter":"datum.p=='de'"}],"mark":{"type":"line","color":"#c0504d","strokeWidth":1.1,"interpolate":"monotone","clip":true},
     "encoding":{"x":{"field":"x","type":"quantitative","axis":null},"y":{"field":"y","type":"quantitative","axis":null}}},
    {"data":{"name":"obs"},"mark":{"type":"point","shape":"M-1,0C-1,-0.0812,-0.5523,-0.147,0,-0.147C0.5523,-0.147,1,-0.0812,1,0C1,0.0812,0.5523,0.147,0,0.147C-0.5523,0.147,-1,0.0812,-1,0Z","size":6659,"angle":341.4,"filled":false,"stroke":"#444444","strokeWidth":1.1,"opacity":1},
     "encoding":{"x":{"field":"d","aggregate":"mean","type":"quantitative","axis":null},"y":{"field":"e","aggregate":"mean","type":"quantitative","axis":null}}},
    {"data":{"name":"obs"},"mark":{"type":"circle","size":36,"color":"#cc2b2b","opacity":1},
     "encoding":{"x":{"field":"d","aggregate":"mean","type":"quantitative","axis":null},"y":{"field":"e","aggregate":"mean","type":"quantitative","axis":null}}}
  ]},
  {"width":227,"height":92,"resolve":{"scale":{"y":"independent"}},"layer":[
    {"data":{"name":"obs"},"transform":[{"bin":{"step":10,"extent":[0,110]},"field":"e","as":["he0","he1"]},{"aggregate":[{"op":"count","as":"n"}],"groupby":["he0","he1"]}],
     "mark":{"type":"bar","fill":"#00F0F0","stroke":"#2f5f5f","strokeWidth":0.8,"clip":true},
     "encoding":{"x":{"field":"he0","type":"quantitative","scale":{"domain":[-4.1,105.5],"nice":false,"zero":false},"axis":{"orient":"bottom","values":[0,20,40,60,80,100]}},"x2":{"field":"he1"},"y":{"field":"n","type":"quantitative","scale":{"domain":[0,71],"nice":false},"axis":null},"y2":{"datum":0}}},
    {"data":{"name":"dens"},"transform":[{"filter":"datum.v=='e'"}],"mark":{"type":"line","color":"#555555","strokeWidth":1,"interpolate":"monotone","clip":true},
     "encoding":{"x":{"field":"x","type":"quantitative","axis":{"orient":"bottom","values":[0,20,40,60,80,100]}},"y":{"field":"h","type":"quantitative","scale":{"domain":[0,71],"nice":false},"axis":null}}},
    {"data":{"name":"obs"},"mark":{"type":"rule","color":"#111111","strokeWidth":0.8},
     "encoding":{"x":{"field":"e","type":"quantitative","axis":{"orient":"bottom","values":[0,20,40,60,80,100]}},"y":{"datum":0,"type":"quantitative","scale":{"domain":[0,71],"nice":false},"axis":null},"y2":{"datum":2.3}}},
    {"data":{"values":[{}]},"mark":{"type":"text","text":"In vivo","font":"Liberation Serif","fontStyle":"italic","fontWeight":"bold","fontSize":12,"align":"right","dx":-2,"color":"#1a1a1a"},
     "encoding":{"x":{"datum":37.8,"type":"quantitative","axis":{"orient":"bottom","values":[0,20,40,60,80,100]}},"y":{"datum":55,"type":"quantitative","scale":{"domain":[0,71],"nice":false},"axis":null}}},
    {"data":{"values":[{}]},"mark":{"type":"text","text":"root biomass","font":"Liberation Serif","fontWeight":"bold","fontSize":12,"align":"left","dx":2,"color":"#1a1a1a"},
     "encoding":{"x":{"datum":37.8,"type":"quantitative","axis":{"orient":"bottom","values":[0,20,40,60,80,100]}},"y":{"datum":55,"type":"quantitative","scale":{"domain":[0,71],"nice":false},"axis":null}}},
    {"data":{"name":"obs"},"mark":{"type":"point","opacity":0},
     "encoding":{"y":{"field":"e","type":"quantitative","scale":{"domain":[-4.1,105.5],"nice":false,"zero":false},"axis":{"orient":"right","values":[0,20,40,60,80,100]}}}}
  ]}
]
}
